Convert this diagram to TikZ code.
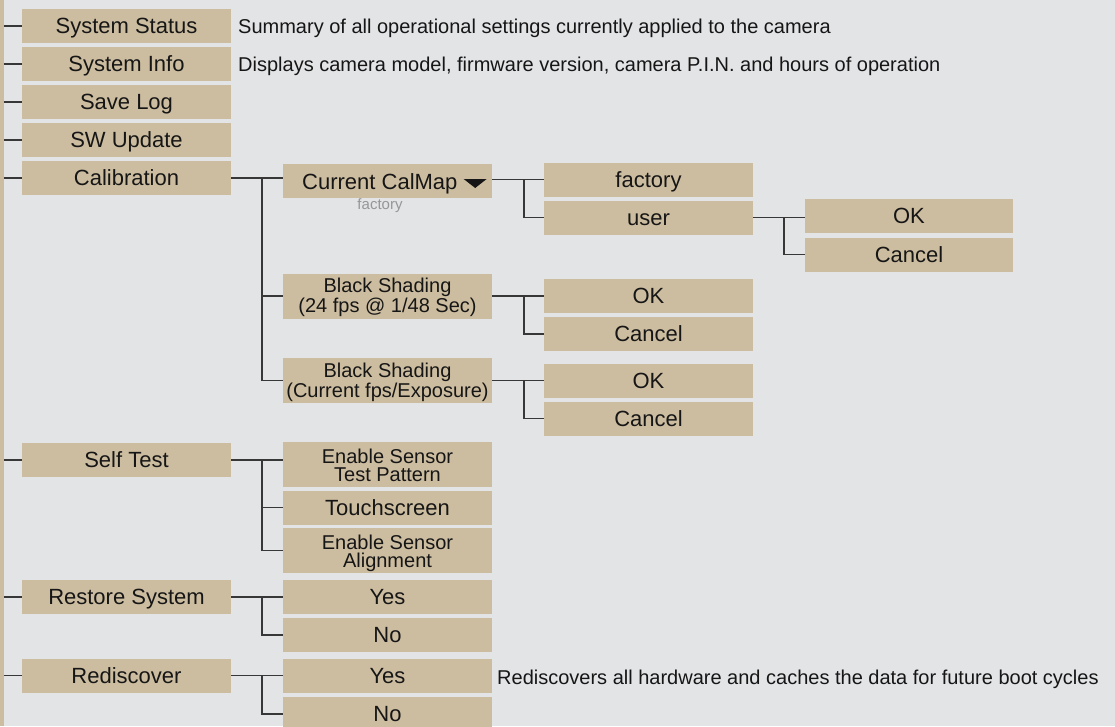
\documentclass[tikz,border=0pt]{standalone}
\usepackage{fontspec}
\setmainfont{Liberation Sans}
\definecolor{boxtan}{RGB}{205,189,160}
\definecolor{bgc}{RGB}{227,228,230}
\definecolor{linec}{RGB}{55,55,55}
\definecolor{txt}{RGB}{22,22,22}
\definecolor{softgray}{RGB}{150,150,152}
\begin{document}
\begin{tikzpicture}[x=1pt,y=-1pt,
  mbox/.style={fill=boxtan, minimum width=209pt, minimum height=34pt, inner sep=0pt,
    text=txt, font=\fontsize{22}{24}\selectfont, text height=20pt, text depth=4.2pt},
  tbox/.style={fill=boxtan, minimum width=209pt, minimum height=45pt, inner sep=0pt,
    text=txt, font=\fontsize{20}{18}\selectfont, align=center, text height=37pt, text depth=4pt},
  link/.style={draw=linec, line width=1.3pt},
  desc/.style={anchor=base west, inner sep=0pt, text=txt, font=\fontsize{20}{22}\selectfont}]
\fill[bgc] (0,0) rectangle (1115,726);
\useasboundingbox (0,0) rectangle (1115,726);
\node[fill=boxtan, minimum width=3.5pt, minimum height=726pt, inner sep=0pt] (lbar) at (1.75,363) {};
% guide coordinates
\coordinate (x2) at (262,0);
\coordinate (x3) at (524,0);
\coordinate (x4) at (784,0);
% column 1
\node[mbox] (sysstat) at (126.5,26) {System Status};
\node[mbox] (sysinfo) at (126.5,64) {System Info};
\node[mbox] (savelog) at (126.5,102) {Save Log};
\node[mbox] (swupd) at (126.5,140) {SW Update};
\node[mbox] (calib) at (126.5,178) {Calibration};
\node[mbox] (selftest) at (126.5,460) {Self Test};
\node[mbox] (restore) at (126.5,597) {Restore System};
\node[mbox] (redisc) at (126.5,675.5) {Rediscover};
% column 2
\node[mbox] (calmap) at (387.5,181) {};
\node[anchor=base west, inner sep=0pt, text=txt, font=\fontsize{22}{24}\selectfont] (calmaptxt) at (302,189) {Current CalMap};
\fill[txt] (calmaptxt.base east) ++(6,-10) -- ++(23,0) -- ++(-11.5,9) -- cycle;
\node[inner sep=0pt, text=softgray, font=\fontsize{15}{16}\selectfont] (calmapval) at (380,206) {factory};
\node[tbox] (bs1) at (387.5,296) {Black Shading\\(24 fps @ 1/48 Sec)};
\node[tbox] (bs2) at (387.5,380.5) {Black Shading\\(Current fps/Exposure)};
\node[tbox] (estp) at (387.5,464.5) {Enable Sensor\\ Test Pattern};
\node[mbox] (touch) at (387.5,507.5) {Touchscreen};
\node[tbox] (esa) at (387.5,550.5) {Enable Sensor\\ Alignment};
\node[mbox] (ryes) at (387.5,597) {Yes};
\node[mbox] (rno) at (387.5,635) {No};
\node[mbox] (dyes) at (387.5,675.5) {Yes};
\node[mbox] (dno) at (387.5,714) {No};
% column 3
\node[mbox] (factory) at (648.5,179.5) {factory};
\node[mbox] (user) at (648.5,217.5) {user};
\node[mbox] (ok1) at (648.5,296) {OK};
\node[mbox] (cancel1) at (648.5,334) {Cancel};
\node[mbox] (ok2) at (648.5,380.5) {OK};
\node[mbox] (cancel2) at (648.5,418.5) {Cancel};
% column 4
\node[mbox, minimum width=208pt] (ok3) at (909,216) {OK};
\node[mbox, minimum width=208pt] (cancel3) at (909,254.5) {Cancel};
% descriptions
\node[desc] (d1) at (238,33.3) {Summary of all operational settings currently applied to the camera};
\node[desc] (d2) at (238,71.3) {Displays camera model, firmware version, camera P.I.N. and hours of operation};
\node[desc] (d3) at (497,684.5) {Rediscovers all hardware and caches the data for future boot cycles};
% left ticks
\foreach \n in {sysstat,sysinfo,savelog,swupd,calib,selftest,restore,redisc}
  \draw[link] (lbar.east |- \n.west) -- (\n.west);
% calibration
\draw[link] (calib.east) -- (calmap.west |- calib.east);
\draw[link] (x2 |- calib.east) |- (bs1.west);
\draw[link] (x2 |- calib.east) |- (bs2.west);
% calmap
\draw[link] (calmap.east |- factory.west) -- (factory.west);
\draw[link] (x3 |- factory.west) |- (user.west);
% user
\draw[link] (user.east) -- (ok3.west |- user.east);
\draw[link] (x4 |- user.east) |- (cancel3.west);
% black shading
\draw[link] (bs1.east) -- (ok1.west);
\draw[link] (x3 |- bs1.east) |- (cancel1.west);
\draw[link] (bs2.east) -- (ok2.west);
\draw[link] (x3 |- bs2.east) |- (cancel2.west);
% self test
\draw[link] (selftest.east) -- (estp.west |- selftest.east);
\draw[link] (x2 |- selftest.east) |- (touch.west);
\draw[link] (x2 |- selftest.east) |- (esa.west);
% restore
\draw[link] (restore.east) -- (ryes.west);
\draw[link] (x2 |- restore.east) |- (rno.west);
% rediscover
\draw[link] (redisc.east) -- (dyes.west);
\draw[link] (x2 |- redisc.east) |- (dno.west);
\end{tikzpicture}
\end{document}
